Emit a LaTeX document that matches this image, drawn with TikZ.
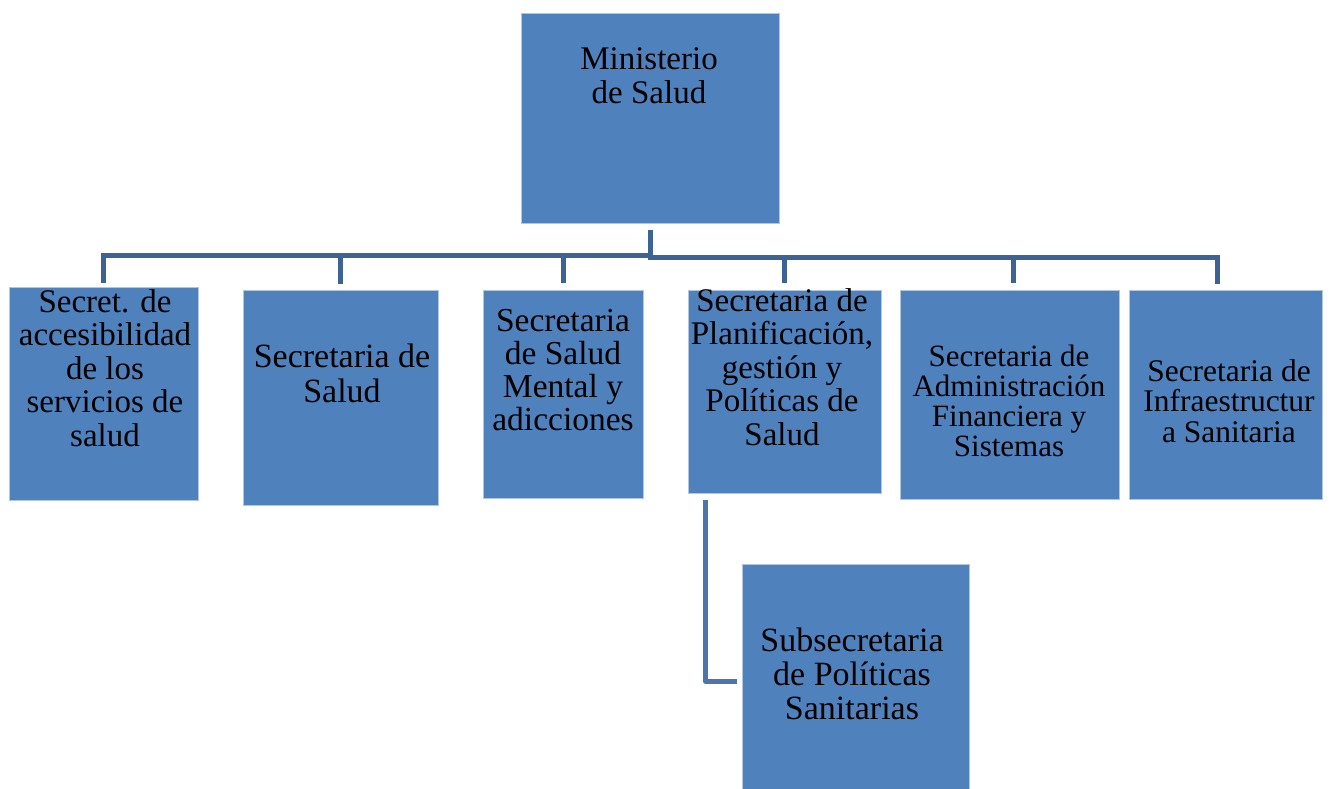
\documentclass[tikz,border=0pt]{standalone}
\usepackage{fontspec}
\setmainfont{Liberation Serif}
\definecolor{boxblue}{RGB}{79,129,189}
\definecolor{busblue}{RGB}{61,99,149}
\definecolor{subblue}{RGB}{74,118,172}
\tikzset{
  unitbox/.style={rectangle, fill=boxblue, draw=white!55!boxblue, line width=0.8pt, inner sep=0pt},
  lbl/.style={align=center, text=black, inner sep=0pt},
  bus/.style={draw=busblue, line width=5pt, line join=miter},
  subline/.style={draw=subblue, line width=4.5pt, line join=round, line cap=butt},
}
\newcommand{\fs}[2]{\fontsize{#1pt}{#2pt}\selectfont}
\begin{document}
\begin{tikzpicture}[x=1pt, y=-1pt]
\useasboundingbox (0,0) rectangle (1331,789);

% boxes
\node[unitbox, minimum width=258pt, minimum height=210pt] (min) at (650,118) {};
\node[unitbox, minimum width=189pt, minimum height=213pt] (b1) at (103.5,393.5) {};
\node[unitbox, minimum width=195pt, minimum height=215pt] (b2) at (340.5,397.5) {};
\node[unitbox, minimum width=160pt, minimum height=208pt] (b3) at (563,394) {};
\node[unitbox, minimum width=193pt, minimum height=203pt] (b4) at (784.5,391.5) {};
\node[unitbox, minimum width=219pt, minimum height=209pt] (b5) at (1009.5,394.5) {};
\node[unitbox, minimum width=193pt, minimum height=209pt] (b6) at (1225.5,394.5) {};
\node[unitbox, minimum width=227pt, minimum height=228pt] (sub) at (855.5,678) {};

% texts
\node[lbl, font=\fs{33}{34}] (tmin) at (649,76) {Ministerio\\de Salud};
\node[lbl, font=\fs{33}{33.5}] (t1) at (105,368) {Secret. de\\accesibilidad\\de los\\servicios de\\salud};
\node[lbl, font=\fs{34}{35}] (t2) at (342,373) {Secretaria de\\Salud};
\node[lbl, font=\fs{33.5}{33}] (t3) at (563,370) {Secretaria\\de Salud\\Mental y\\adicciones};
\node[lbl, font=\fs{33}{33.5}] (t4) at (782,367) {Secretaria de\\Planificación,\\gestión y\\Políticas de\\Salud};
\node[lbl, font=\fs{31}{30}] (t5) at (1009,401) {Secretaria de\\Administración\\Financiera y\\Sistemas};
\node[lbl, font=\fs{31.5}{30.5}] (t6) at (1229,401) {Secretaria de\\Infraestructur\\a Sanitaria};
\node[lbl, font=\fs{34}{34}] (tsub) at (852,674) {Subsecretaria\\de Políticas\\Sanitarias};

% bus levels
\coordinate (hL) at (0,255);
\coordinate (hR) at (0,257.5);

% connectors from the ministry to the secretariats
\draw[bus] ([yshift=-7pt]min.south) -- (min.south |- hR);
\draw[bus] ([yshift=4pt]b1.north) -- (b1.north |- hL) -- ([xshift=2.5pt]min.south |- hL);
\draw[bus] ([yshift=6pt]b2.north) -- (b2.north |- hL);
\draw[bus] ([yshift=7pt]b3.north) -- (b3.north |- hR);
\draw[bus] ([xshift=-2.5pt]min.south |- hR) -- ([xshift=-8pt]b6.north |- hR) -- ([xshift=-8pt,yshift=6pt]b6.north);
\draw[bus] ([yshift=7pt]b4.north) -- (b4.north |- hR);
\draw[bus] ([xshift=3.5pt,yshift=7pt]b5.north) -- ([xshift=3.5pt]b5.north |- hR);

% connector to the undersecretariat
\draw[subline] ([xshift=18pt,yshift=-7pt]b4.south west) |- ([xshift=-5pt,yshift=-3.5pt]sub.west);
\end{tikzpicture}
\end{document}
